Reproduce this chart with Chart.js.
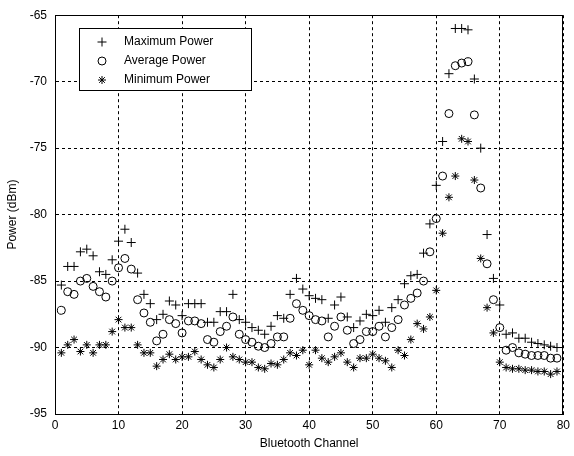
<!DOCTYPE html>
<html>
<head>
<meta charset="utf-8">
<style>
    html, body { margin: 0; padding: 0; background: #ffffff; }
    #chartBox { width: 574px; height: 456px; }
</style>
<script src="https://cdn.jsdelivr.net/npm/chart.js@4/dist/chart.umd.min.js"></script>
</head>
<body>
<div id="chartBox"><canvas id="powerChart" width="574" height="456"></canvas></div>
<script>
const channels = [
    1, 2, 3, 4, 5, 6, 7, 8, 9, 10, 11, 12, 13, 14, 15, 16, 17, 18, 19, 20,
    21, 22, 23, 24, 25, 26, 27, 28, 29, 30, 31, 32, 33, 34, 35, 36, 37, 38, 39, 40,
    41, 42, 43, 44, 45, 46, 47, 48, 49, 50, 51, 52, 53, 54, 55, 56, 57, 58, 59, 60,
    61, 62, 63, 64, 65, 66, 67, 68, 69, 70, 71, 72, 73, 74, 75, 76, 77, 78, 79
];

const maxPower = [
    -85.3, -83.9, -83.9, -82.8, -82.6, -83.1, -84.3, -84.5, -83.4, -82.0,
    -81.1, -82.1, -84.4, -86.0, -86.7, -87.9, -87.5, -86.5, -86.8, -87.6,
    -86.7, -86.7, -86.7, -88.1, -88.1, -87.3, -87.3, -86.0, -87.9, -88.1,
    -88.5, -88.7, -89.0, -88.4, -87.6, -87.8, -86.0, -84.8, -85.6, -86.1,
    -86.3, -86.4, -87.8, -86.8, -86.2, -87.7, -88.5, -88.0, -87.5, -87.6,
    -87.2, -88.1, -87.0, -86.4, -85.2, -84.6, -84.5, -82.9, -80.7, -77.8,
    -74.5, -69.4, -66.0, -66.0, -66.1, -69.8, -75.0, -81.5, -84.8, -86.8,
    -89.0, -88.9, -89.3, -89.3, -89.6, -89.7, -89.8, -89.9, -90.0
];

const avgPower = [
    -87.2, -85.8, -86.0, -85.0, -84.8, -85.4, -85.8, -86.2, -85.0, -84.0,
    -83.3, -84.1, -86.4, -87.4, -88.1, -89.5, -89.0, -87.9, -88.2, -88.9,
    -88.0, -88.0, -88.2, -89.4, -89.6, -88.8, -88.4, -87.7, -89.0, -89.4,
    -89.6, -89.9, -90.0, -89.7, -89.2, -89.2, -87.8, -86.7, -87.2, -87.6,
    -87.9, -88.0, -89.2, -88.4, -87.7, -88.7, -89.7, -89.4, -88.8, -88.8,
    -88.4, -89.2, -88.5, -87.9, -86.8, -86.3, -85.9, -85.0, -82.8, -80.3,
    -77.1, -72.4, -68.8, -68.6, -68.5, -72.5, -78.0, -83.7, -86.4, -88.5,
    -90.2, -90.0, -90.4, -90.5, -90.6, -90.6, -90.6, -90.8, -90.8
];

const minPower = [
    -90.4, -89.8, -89.4, -90.3, -89.8, -90.4, -89.8, -89.8, -88.8, -87.9,
    -88.5, -88.5, -89.8, -90.4, -90.4, -91.4, -90.9, -90.5, -90.9, -90.7,
    -90.7, -90.3, -90.9, -91.3, -91.5, -90.9, -90.0, -90.7, -90.9, -91.1,
    -91.1, -91.5, -91.6, -91.2, -91.3, -90.9, -90.4, -90.6, -90.2, -91.3,
    -90.2, -90.8, -91.1, -90.7, -90.4, -91.1, -91.5, -90.8, -90.8, -90.5,
    -90.8, -91.0, -91.5, -90.2, -90.6, -89.4, -88.2, -88.6, -87.7, -85.7,
    -81.4, -78.7, -77.1, -74.3, -74.5, -77.4, -83.3, -87.0, -88.9, -91.1,
    -91.5, -91.6, -91.6, -91.7, -91.7, -91.8, -91.8, -92.0, -91.8
];

const seriesLabels = ["Maximum Power", "Average Power", "Minimum Power"];
const xTicks = [0, 10, 20, 30, 40, 50, 60, 70, 80];
const yTicks = [-95, -90, -85, -80, -75, -70, -65];

document.addEventListener("DOMContentLoaded", function () {
    const fontFamily = "Arial, 'Liberation Sans', sans-serif";

    const markers = [
        { pointStyle: "cross", radius: 4.5 },
        { pointStyle: "circle", radius: 4 },
        { pointStyle: "star", radius: 4 }
    ];

    function toPoints(values) {
        return channels.map(function (ch, i) {
            return { x: ch, y: values[i] };
        });
    }

    // MATLAB style: white page, solid box round the axes, boxed legend
    const matlabLook = {
        id: "matlabLook",
        beforeDraw: function (chart) {
            const ctx = chart.ctx;
            ctx.save();
            ctx.fillStyle = "#ffffff";
            ctx.fillRect(0, 0, chart.width, chart.height);
            ctx.restore();
        },
        afterDraw: function (chart) {
            const ctx = chart.ctx;
            const area = chart.chartArea;

            ctx.save();
            ctx.strokeStyle = "#000000";
            ctx.lineWidth = 1;
            ctx.setLineDash([]);
            ctx.strokeRect(Math.round(area.left) + 0.5, Math.round(area.top) + 0.5,
                Math.round(area.right - area.left) - 1, Math.round(area.bottom - area.top));

            // legend box
            const boxX = 79.5, boxY = 28.5, boxW = 172, boxH = 62;
            ctx.fillStyle = "#ffffff";
            ctx.fillRect(boxX, boxY, boxW, boxH);
            ctx.strokeRect(boxX, boxY, boxW, boxH);

            ctx.font = "12px " + fontFamily;
            ctx.textBaseline = "middle";
            ctx.textAlign = "left";
            seriesLabels.forEach(function (label, i) {
                const rowY = 42 + i * 19;
                ctx.strokeStyle = "#000000";
                ctx.fillStyle = "rgba(0,0,0,0)";
                ctx.lineWidth = 1;
                Chart.helpers.drawPoint(ctx, {
                    pointStyle: markers[i].pointStyle,
                    radius: markers[i].radius,
                    rotation: 0,
                    borderWidth: 1
                }, 102, rowY);
                ctx.fillStyle = "#000000";
                ctx.fillText(label, 124, rowY);
            });
            ctx.restore();
        }
    };

    const datasets = [maxPower, avgPower, minPower].map(function (values, i) {
        return {
            label: seriesLabels[i],
            data: toPoints(values),
            showLine: false,
            pointStyle: markers[i].pointStyle,
            pointRadius: markers[i].radius,
            pointBorderWidth: 1,
            pointBorderColor: "#000000",
            pointBackgroundColor: "rgba(0,0,0,0)",
            borderColor: "#000000",
            backgroundColor: "rgba(0,0,0,0)"
        };
    });

    new Chart(document.getElementById("powerChart"), {
        type: "scatter",
        data: { datasets: datasets },
        plugins: [matlabLook],
        options: {
            responsive: false,
            animation: false,
            events: [],
            layout: {
                padding: { top: 10, right: 7, left: 0, bottom: 0 }
            },
            plugins: {
                legend: { display: false },
                tooltip: { enabled: false }
            },
            scales: {
                x: {
                    type: "linear",
                    min: xTicks[0],
                    max: xTicks[xTicks.length - 1],
                    afterBuildTicks: function (scale) {
                        scale.ticks = xTicks.map(function (v) { return { value: v }; });
                    },
                    afterFit: function (scale) {
                        scale.height = 42;
                    },
                    ticks: {
                        color: "#000000",
                        padding: 4,
                        maxRotation: 0,
                        font: { family: fontFamily, size: 12 }
                    },
                    grid: {
                        color: "#000000",
                        lineWidth: 1,
                        drawTicks: false
                    },
                    border: {
                        display: true,
                        color: "#000000",
                        dash: [3, 3]
                    },
                    title: {
                        display: true,
                        text: "Bluetooth Channel",
                        color: "#000000",
                        padding: { top: 0, bottom: 5 },
                        font: { family: fontFamily, size: 12 }
                    }
                },
                y: {
                    type: "linear",
                    min: yTicks[0],
                    max: yTicks[yTicks.length - 1],
                    afterBuildTicks: function (scale) {
                        scale.ticks = yTicks.map(function (v) { return { value: v }; });
                    },
                    afterFit: function (scale) {
                        scale.width = 55;
                    },
                    ticks: {
                        color: "#000000",
                        padding: 8,
                        font: { family: fontFamily, size: 12 }
                    },
                    grid: {
                        color: "#000000",
                        lineWidth: 1,
                        drawTicks: false
                    },
                    border: {
                        display: true,
                        color: "#000000",
                        dash: [3, 3]
                    },
                    title: {
                        display: true,
                        text: "Power (dBm)",
                        color: "#000000",
                        padding: { top: 5, bottom: 0 },
                        font: { family: fontFamily, size: 12 }
                    }
                }
            }
        }
    });
});
</script>
</body>
</html>
